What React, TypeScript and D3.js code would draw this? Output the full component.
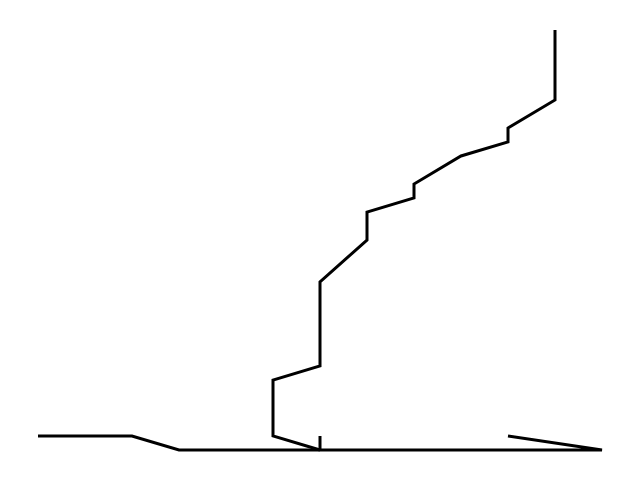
import React from 'react';
import * as d3 from 'd3';

// Series as [x step, value]
const flatSeries: [number, number][] = [[0, 1], [2, 1], [3, 0], [12, 0], [10, 1]];
const tickSeries: [number, number][] = [[6, 1], [6, 0]];
const climbSeries: [number, number][] = [
  [6, 0], [5, 1], [5, 5], [6, 6], [6, 12], [7, 15], [7, 17], [8, 18],
  [8, 19], [9, 21], [10, 22], [10, 23], [11, 25], [11, 30],
];

const App = () => {
  const width = 640;
  const height = 482;

  const x = d3.scaleLinear().domain([0, 12]).range([38, 602]);
  const y = d3.scaleLinear().domain([0, 30]).range([450, 30]);

  const line = d3.line<[number, number]>()
    .x(d => x(d[0]))
    .y(d => y(d[1]));

  const series = [flatSeries, tickSeries, climbSeries];

  return (
    <svg
      width={width}
      height={height}
      style={{ position: 'absolute', left: 0, top: 0, background: 'white' }}
    >
      {series.map((s, i) => (
        <path
          key={i}
          d={line(s) || ''}
          fill="none"
          stroke="black"
          strokeWidth={3}
          strokeLinejoin="miter"
        />
      ))}
    </svg>
  );
};

export default App;
